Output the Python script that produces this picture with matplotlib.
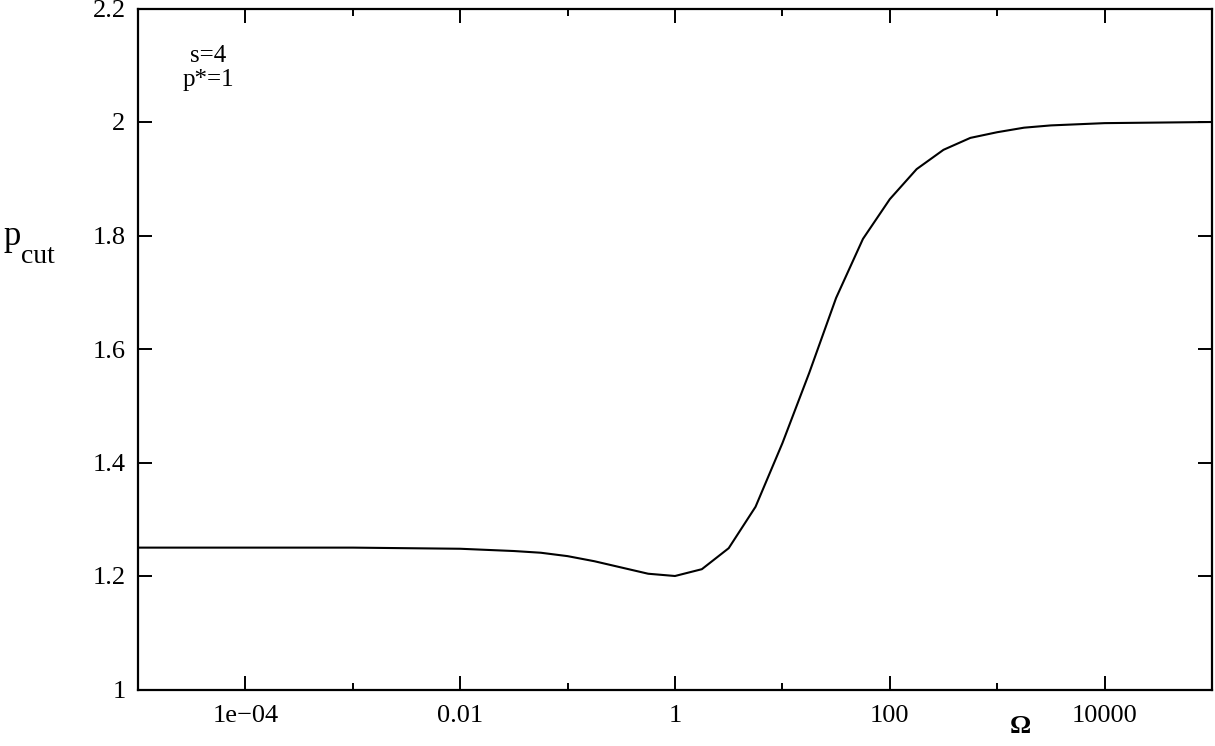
import matplotlib
matplotlib.use('Agg')
import matplotlib.pyplot as plt
import numpy as np

# curve (Omega on log axis, p_cut)
log_omega = [-5.0, -4.0, -3.0, -2.5, -2.0, -1.75, -1.5, -1.25, -1.0, -0.75, -0.5, -0.25,
             0.0, 0.25, 0.5, 0.75, 1.0, 1.25, 1.5, 1.75, 2.0, 2.25, 2.5, 2.75,
             3.0, 3.25, 3.5, 3.75, 4.0, 4.5, 5.0]
p_cut = [1.250, 1.250, 1.250, 1.249, 1.248, 1.246, 1.244, 1.241, 1.235, 1.226, 1.215, 1.204,
         1.200, 1.212, 1.249, 1.322, 1.434, 1.558, 1.690, 1.794, 1.864, 1.917, 1.951, 1.972,
         1.982, 1.990, 1.994, 1.996, 1.998, 1.999, 2.000]

x_major = [1e-4, 1e-2, 1, 1e2, 1e4]
x_major_labels = ['1e\u221204', '0.01', '1', '100', '10000']
x_minor = [1e-3, 1e-1, 1e1, 1e3]
y_ticks = [1.0, 1.2, 1.4, 1.6, 1.8, 2.0, 2.2]
y_tick_labels = ['1', '1.2', '1.4', '1.6', '1.8', '2', '2.2']

plt.rcParams['font.family'] = ['Liberation Serif', 'DejaVu Serif']

W, H = 1215, 746
fig = plt.figure(figsize=(W / 100, H / 100), dpi=100)
ax = fig.add_axes([138 / W, 1 - 689.5 / H, (1212 - 138) / W, (689.5 - 8.5) / H])

omega = 10.0 ** np.array(log_omega)
ax.plot(omega, p_cut, color='black', linewidth=1.5)

ax.set_xscale('log')
ax.set_xlim(1e-5, 1e5)
ax.set_ylim(1.0, 2.2)

ax.set_xticks(x_major)
ax.set_xticklabels(x_major_labels)
ax.set_xticks(x_minor, minor=True)
ax.set_xticklabels([], minor=True)
ax.set_yticks(y_ticks)
ax.set_yticklabels(y_tick_labels)
ax.yaxis.set_minor_locator(matplotlib.ticker.NullLocator())

ax.tick_params(which='both', direction='in', top=True, right=True,
               labelsize=19, width=1.4)
ax.tick_params(which='major', length=10)
ax.tick_params(axis='x', which='major', pad=11)
ax.tick_params(axis='y', which='major', pad=9)
ax.tick_params(which='minor', length=5)
for sp in ax.spines.values():
    sp.set_linewidth(1.6)

# axis labels placed like the original
fig.text(3 / W, 1 - 245 / H, 'p', fontsize=25, ha='left', va='baseline')
fig.text(21 / W, 1 - 263 / H, 'cut', fontsize=20, ha='left', va='baseline')
fig.text(1020 / W, 1 - 733 / H, '\u03a9', fontsize=19, fontweight='bold',
         ha='center', va='baseline')
fig.text(208 / W, 1 - 68 / H, 's=4\np*=1', fontsize=18, ha='center', va='center',
         linespacing=1.1)

fig.savefig('out.png', dpi=100)
plt.close(fig)
